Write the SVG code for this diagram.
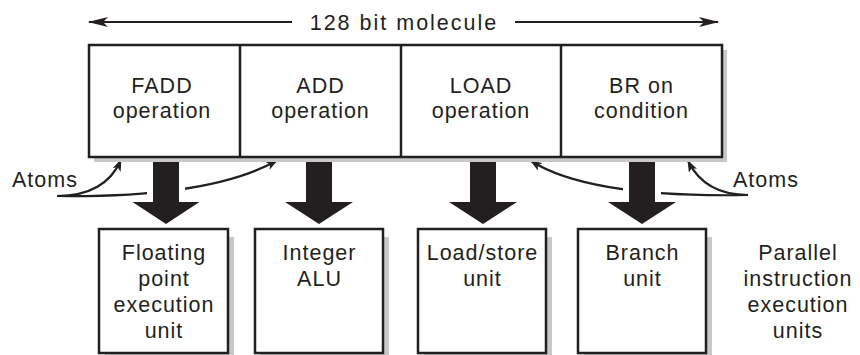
<svg xmlns="http://www.w3.org/2000/svg" width="860" height="355" viewBox="0 0 860 355">
<style>
  text { font-family: "Liberation Sans", Arial, sans-serif; font-size: 21.5px; fill: #231f20; letter-spacing: 1px; text-anchor: middle; }
  .title { letter-spacing: 2px; }
  .box { fill: #ffffff; stroke: #231f20; stroke-width: 2.5; }
  .shadow { fill: #c8c8c8; }
  .div { stroke: #231f20; stroke-width: 2.5; }
  .line { fill: none; stroke: #231f20; stroke-width: 2; }
  .curve { fill: none; stroke: #231f20; stroke-width: 2.2; }
  .fat { fill: #231f20; }
  .halo { fill: #ffffff; }
</style>
<defs>
  <marker id="bighead" viewBox="0 0 20 10" refX="19" refY="5" markerWidth="20" markerHeight="10" markerUnits="userSpaceOnUse" orient="auto">
    <path d="M0,0 L20,5 L0,10 L5,5 z" fill="#231f20"/>
  </marker>
  <marker id="smallhead" viewBox="0 0 12 9" refX="11" refY="4.5" markerWidth="12" markerHeight="9" markerUnits="userSpaceOnUse" orient="auto">
    <path d="M0,0 L12,4.5 L0,9 L3,4.5 z" fill="#231f20"/>
  </marker>
</defs>

<g id="molecule-label">
  <text class="title" x="404" y="30">128 bit molecule</text>
</g>

<g id="connectors">
  <line class="line" x1="292" y1="22" x2="89" y2="22" marker-end="url(#bighead)"/>
  <line class="line" x1="515" y1="22" x2="718" y2="22" marker-end="url(#bighead)"/>
  <path class="curve" d="M57,196 Q105,196 121,160" marker-end="url(#smallhead)"/>
  <path class="curve" d="M57,196 Q210,198 277,160.5" marker-end="url(#smallhead)"/>
  <path class="curve" d="M748,195 Q590,198 531,161" marker-end="url(#smallhead)"/>
  <path class="curve" d="M748,195 Q705,195 688,161" marker-end="url(#smallhead)"/>
  <rect class="halo" x="147" y="163" width="38" height="38"/>
  <rect class="halo" x="300" y="163" width="38" height="38"/>
  <rect class="halo" x="464" y="163" width="38" height="38"/>
  <rect class="halo" x="623" y="163" width="38" height="38"/>
  <path class="fat" d="M153,158 H179 V202 H199.5 L166,224 L132.5,202 H153 Z"/>
  <path class="fat" d="M306,158 H332 V202 H353 L319,224 L285,202 H306 Z"/>
  <path class="fat" d="M470,158 H496 V202 H517 L483,224 L449,202 H470 Z"/>
  <path class="fat" d="M629,158 H655 V202 H676 L642,224 L608,202 H629 Z"/>
</g>

<g id="molecule">
  <rect class="shadow" x="94" y="50" width="633" height="112"/>
  <rect class="box" x="89" y="45" width="633" height="112"/>
  <line class="div" x1="240" y1="45" x2="240" y2="157"/>
  <line class="div" x1="401" y1="45" x2="401" y2="157"/>
  <line class="div" x1="561" y1="45" x2="561" y2="157"/>
</g>

<g id="atom-fadd">
  <text x="162" y="93">FADD</text>
  <text x="162" y="118">operation</text>
</g>
<g id="atom-add">
  <text x="320.5" y="93">ADD</text>
  <text x="320.5" y="118">operation</text>
</g>
<g id="atom-load">
  <text x="481" y="93">LOAD</text>
  <text x="481" y="118">operation</text>
</g>
<g id="atom-br">
  <text x="641.5" y="93">BR on</text>
  <text x="641.5" y="118">condition</text>
</g>

<g id="atoms-left">
  <text x="45" y="187">Atoms</text>
</g>
<g id="atoms-right">
  <text x="766" y="187">Atoms</text>
</g>

<g id="unit-fp">
  <rect class="shadow" x="105" y="237" width="129" height="124"/>
  <rect class="box" x="99" y="229" width="129" height="124"/>
  <text x="164" y="260">Floating</text>
  <text x="164" y="286">point</text>
  <text x="164" y="312">execution</text>
  <text x="164" y="338">unit</text>
</g>
<g id="unit-alu">
  <rect class="shadow" x="261" y="237" width="128" height="124"/>
  <rect class="box" x="255" y="229" width="128" height="124"/>
  <text x="319.5" y="260">Integer</text>
  <text x="319.5" y="286">ALU</text>
</g>
<g id="unit-ls">
  <rect class="shadow" x="424" y="237" width="128" height="124"/>
  <rect class="box" x="418" y="229" width="128" height="124"/>
  <text x="482.5" y="260">Load/store</text>
  <text x="482.5" y="286">unit</text>
</g>
<g id="unit-br">
  <rect class="shadow" x="584" y="237" width="128" height="124"/>
  <rect class="box" x="578" y="229" width="128" height="124"/>
  <text x="642.5" y="260">Branch</text>
  <text x="642.5" y="286">unit</text>
</g>

<g id="parallel-label">
  <text x="798" y="260">Parallel</text>
  <text x="798" y="286">instruction</text>
  <text x="798" y="312">execution</text>
  <text x="798" y="338">units</text>
</g>
</svg>
